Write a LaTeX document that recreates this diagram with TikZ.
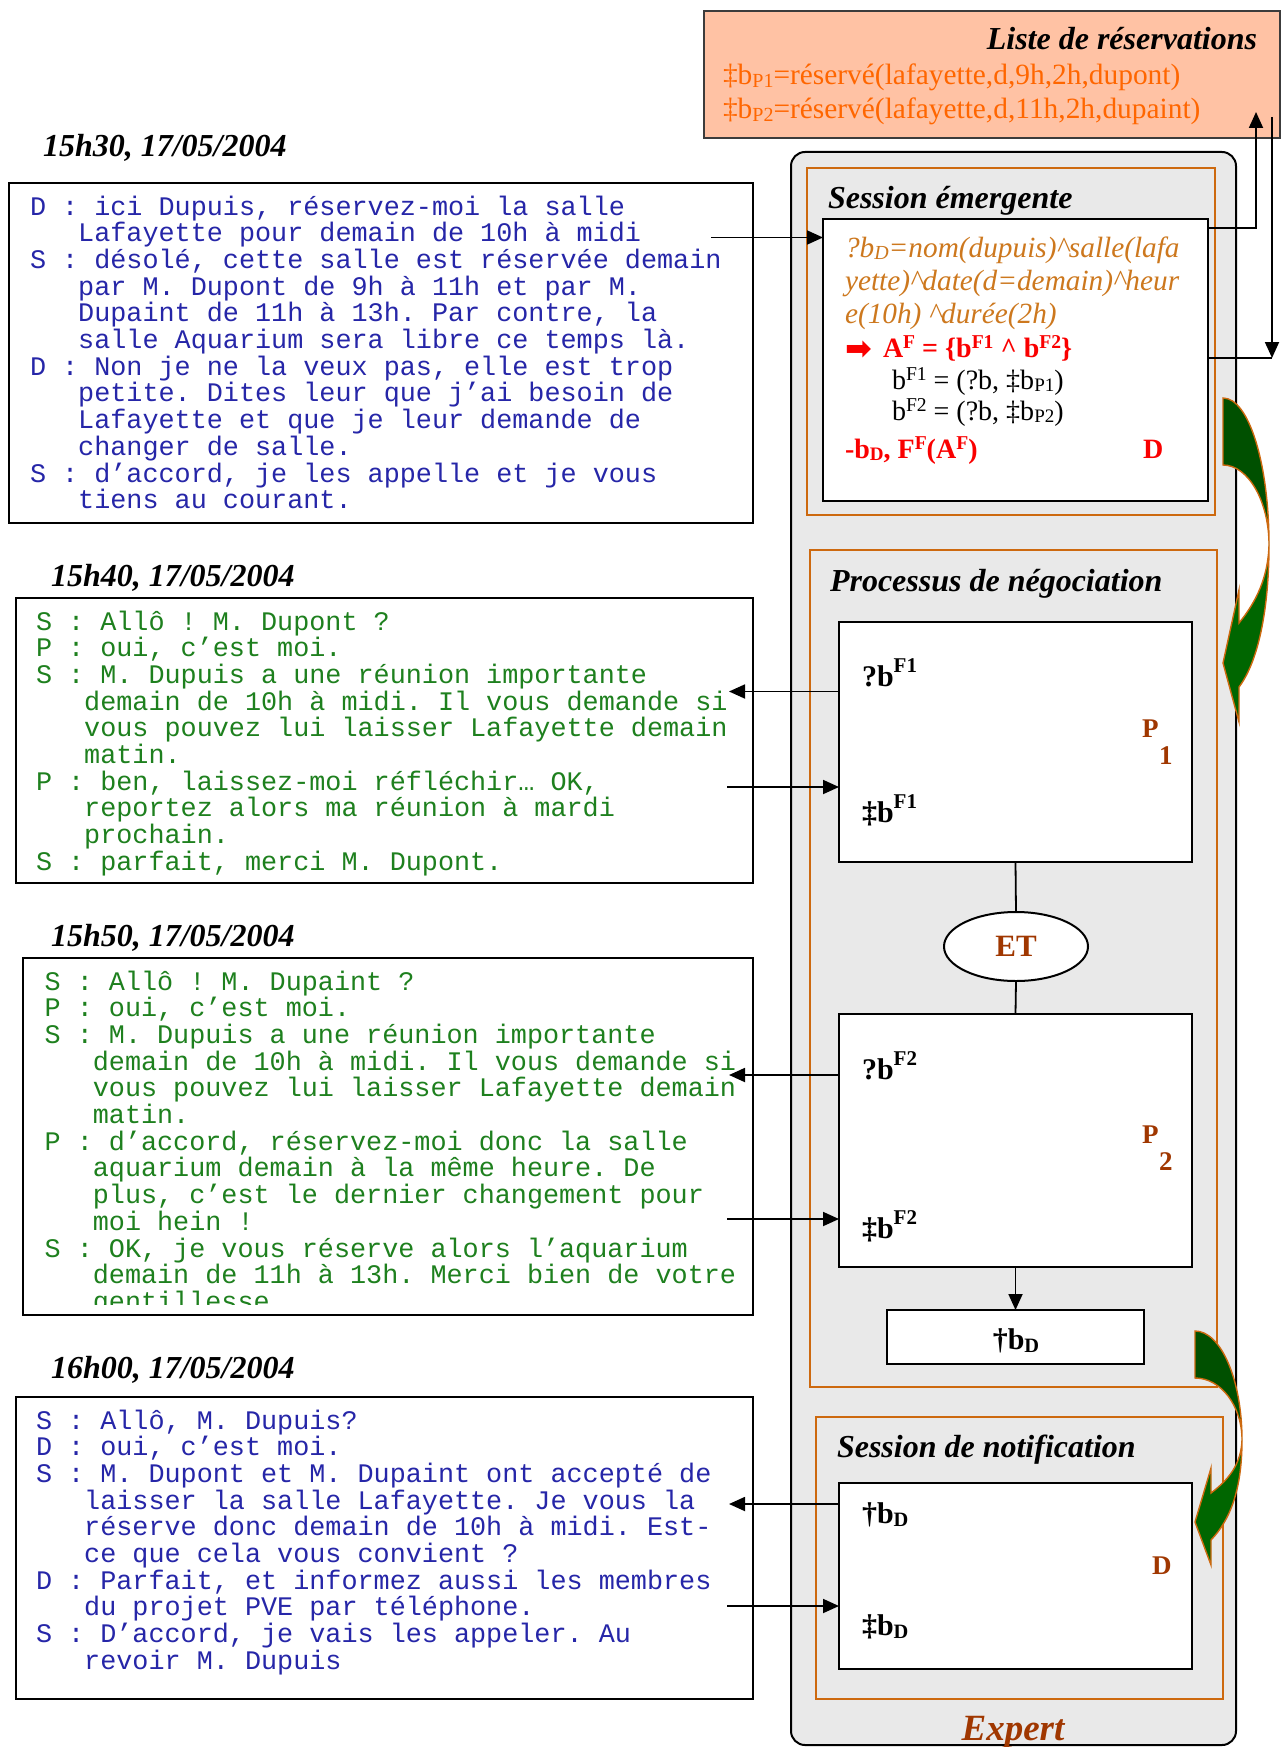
\documentclass[tikz,border=0pt]{standalone}
\usepackage{fontspec}
\setmainfont{Liberation Serif}
\setmonofont{Liberation Mono}
\newfontfamily\dejavu{DejaVu Sans}
\usetikzlibrary{arrows.meta,shapes.geometric}
\makeatletter
\newcommand\Sup[2][0.25em]{\raisebox{#1}{\fontsize{\fpeval{0.7*\f@size}}{0}\selectfont #2}}
\newcommand\Sub[1]{\raisebox{-0.1em}{\fontsize{\fpeval{0.68*\f@size}}{0}\selectfont #1}}
\makeatother
\newcommand\fdlg{\ttfamily\fontsize{26.8}{26.7}\selectfont\frenchspacing}
\newcommand\fbi{\bfseries\itshape\fontsize{32}{34}\selectfont}
\newcommand\fexp{\bfseries\itshape\fontsize{37}{40}\selectfont}
\newcommand\fres{\fontsize{29.4}{34}\selectfont}
\newcommand\fital{\itshape\fontsize{29.3}{33}\selectfont}
\newcommand\fbl{\fontsize{28}{32}\selectfont}
\newcommand\fbr{\bfseries\fontsize{28}{32}\selectfont}
\newcommand\fbb{\bfseries\fontsize{30}{32}\selectfont}
\newcommand\flab{\bfseries\fontsize{27}{30}\selectfont}
\newcommand\fet{\bfseries\fontsize{31}{33}\selectfont}
\newcommand\dind{\hspace*{1.8em}}
\definecolor{dblue}{RGB}{38,38,168}
\definecolor{dgreen}{RGB}{30,128,30}
\definecolor{resorange}{RGB}{255,102,0}
\definecolor{frameorange}{RGB}{205,105,15}
\definecolor{itorange}{RGB}{205,120,30}
\definecolor{brownlab}{RGB}{160,55,0}
\definecolor{salmon}{RGB}{255,194,164}
\definecolor{listborder}{RGB}{60,60,60}
\definecolor{expgray}{RGB}{233,233,233}
\definecolor{gdark}{RGB}{0,80,0}
\definecolor{glight}{RGB}{0,102,0}
\definecolor{redtxt}{RGB}{250,0,0}
\tikzset{
  px/.style={inner sep=0pt, outer sep=0pt},
  lbl/.style={px, anchor=base west},
  blackbox/.style={draw=black, line width=2pt, fill=white},
  oframe/.style={draw=frameorange, line width=1.6pt},
  dlgbox/.style={draw=black, line width=2pt, fill=white},
  conn/.style={draw=black, line width=1.8pt},
  arr/.style={conn, -{Triangle[length=16pt,width=14pt]}},
  garrowA/.style={fill=gdark, draw=frameorange, line width=1.4pt},
  garrowB/.style={fill=glight, draw=frameorange, line width=1.4pt}
}
\newcommand\rbox[6][]{\node[px, anchor=north west, minimum width=#5-#3, minimum height=#6-#4, #1] (#2) at (#3,#4) {};}
\begin{document}
\begin{tikzpicture}[x=1pt,y=-1pt]
\useasboundingbox (0,0) rectangle (1282,1747);

% ---------- reservation list ----------
\rbox[draw=listborder, line width=1.5pt, fill=salmon]{liste}{704}{11}{1280}{138}
\node[px, anchor=base east, font=\fbi] (listeT) at (1257,50) {Liste de réservations};
\node[lbl, font=\fres, text=resorange] (res1) at (723,85) {‡b\Sub{P1}=réservé(lafayette,d,9h,2h,dupont)};
\node[lbl, font=\fres, text=resorange] (res2) at (723,119) {‡b\Sub{P2}=réservé(lafayette,d,11h,2h,dupaint)};

% ---------- expert ----------
\rbox[draw=black, line width=2pt, fill=expgray, rounded corners=14pt]{expert}{791}{152}{1236}{1745}
\rbox[oframe]{seF}{807}{168}{1215}{515}
\rbox[oframe]{npF}{810}{550}{1217}{1387}
\rbox[oframe]{snF}{816}{1417}{1223}{1699}

\rbox[blackbox]{se}{823}{219}{1208}{501}
\rbox[blackbox]{F1}{839}{622}{1192}{862}
\rbox[blackbox]{F2}{839}{1014}{1192}{1267}
\rbox[blackbox]{tbd}{887}{1310}{1144}{1364}
\rbox[blackbox]{sn}{839}{1483}{1192}{1669}
\node[ellipse, draw=black, line width=2pt, fill=white, minimum width=144pt, minimum height=69pt, px, font=\fet, text=brownlab] (et) at (1016,946.5) {ET};

\node[lbl, font=\fbi] (tSE) at (828,208) {Session émergente};
\node[lbl, font=\fbi] (tNP) at (830,591) {Processus de négociation};
\node[lbl, font=\fbi] (tSN) at (837,1457) {Session de notification};
\node[px, anchor=base, font=\fexp, text=brownlab] (tEx) at (1013,1740) {Expert};

% session emergente content
\node[lbl, font=\fital, text=itorange] (se1) at (845,257) {?b\Sub{D}=nom(dupuis)\textasciicircum salle(lafa};
\node[lbl, font=\fital, text=itorange] (se2) at (845,290) {yette)\textasciicircum date(d=demain)\textasciicircum heur};
\node[lbl, font=\fital, text=itorange] (se3) at (845,323) {e(10h) \textasciicircum durée(2h)};
\node[lbl, font=\dejavu\bfseries\fontsize{32}{34}\selectfont, text=redtxt] (redarr) at (845,359) {➡};
\node[lbl, font=\fbr, text=redtxt] (redA) at (883,357) {A\Sup[0.3em]{F} = \{b\Sup[0.3em]{F1} \textasciicircum\ b\Sup[0.3em]{F2}\}};
\node[lbl, font=\fbl] (bf1) at (892,389) {b\Sup[0.3em]{F1} = (?b, ‡b\Sub{P1})};
\node[lbl, font=\fbl] (bf2) at (892,420) {b\Sup[0.3em]{F2} = (?b, ‡b\Sub{P2})};
\node[lbl, font=\fbr, text=redtxt] (redL) at (845,458) {-b\Sub{D}, F\Sup[0.3em]{F}(A\Sup[0.3em]{F})};
\node[lbl, font=\fbr, text=redtxt] (redD) at (1143,458) {D};

% negotiation content
\node[lbl, font=\fbb] (f1q) at (862,686) {?b\Sup[0.45em]{F1}};
\node[lbl, font=\fbb] (f1d) at (862,822) {‡b\Sup[0.45em]{F1}};
\node[lbl, font=\flab, text=brownlab] (p1a) at (1142,737) {P};
\node[lbl, font=\flab, text=brownlab] (p1b) at (1159,764) {1};
\node[lbl, font=\fbb] (f2q) at (862,1079) {?b\Sup[0.45em]{F2}};
\node[lbl, font=\fbb] (f2d) at (862,1238) {‡b\Sup[0.45em]{F2}};
\node[lbl, font=\flab, text=brownlab] (p2a) at (1142,1143) {P};
\node[lbl, font=\flab, text=brownlab] (p2b) at (1159,1170) {2};
\node[px, anchor=base, font=\fbb] (tbdT) at (1016,1349) {†b\Sub{D}};

% notification content
\node[lbl, font=\fbb] (snq) at (862,1523) {†b\Sub{D}};
\node[lbl, font=\fbb] (snd) at (862,1635) {‡b\Sub{D}};
\node[lbl, font=\flab, text=brownlab] (snD) at (1152,1574) {D};

% ---------- dialogs ----------
\rbox[dlgbox]{dlg1}{9}{183}{753}{523}
\rbox[dlgbox]{dlg2}{15.5}{598}{753}{883}
\rbox[dlgbox]{dlg3}{23}{958}{753}{1315}
\rbox[dlgbox]{dlg4}{15.5}{1397}{753}{1699}

\node[lbl, font=\fbi] (date1) at (43,157) {15h30, 17/05/2004};
\node[lbl, font=\fbi] (date2) at (51,586) {15h40, 17/05/2004};
\node[lbl, font=\fbi] (date3) at (51,946) {15h50, 17/05/2004};
\node[lbl, font=\fbi] (date4) at (51,1378) {16h00, 17/05/2004};

\foreach \dl [count=\i from 0] in {
 {D : ici Dupuis, réservez-moi la salle},
 {\dind Lafayette pour demain de 10h à midi},
 {S : désolé, cette salle est réservée demain},
 {\dind par M. Dupont de 9h à 11h et par M.},
 {\dind Dupaint de 11h à 13h. Par contre, la},
 {\dind salle Aquarium sera libre ce temps là.},
 {D : Non je ne la veux pas, elle est trop},
 {\dind petite. Dites leur que j’ai besoin de},
 {\dind Lafayette et que je leur demande de},
 {\dind changer de salle.},
 {S : d’accord, je les appelle et je vous},
 {\dind tiens au courant.}
}{\node[lbl, font=\fdlg, text=dblue] (dA\i) at (30,215+26.7*\i) {\dl};}

\foreach \dl [count=\i from 0] in {
 {S : Allô ! M. Dupont ?},
 {P : oui, c’est moi.},
 {S : M. Dupuis a une réunion importante},
 {\dind demain de 10h à midi. Il vous demande si},
 {\dind vous pouvez lui laisser Lafayette demain},
 {\dind matin.},
 {P : ben, laissez-moi réfléchir… OK,},
 {\dind reportez alors ma réunion à mardi},
 {\dind prochain.},
 {S : parfait, merci M. Dupont.}
}{\node[lbl, font=\fdlg, text=dgreen] (dB\i) at (36,630+26.7*\i) {\dl};}

\begin{scope}
\clip (23,958) rectangle (753,1304);
\foreach \dl [count=\i from 0] in {
 {S : Allô ! M. Dupaint ?},
 {P : oui, c’est moi.},
 {S : M. Dupuis a une réunion importante},
 {\dind demain de 10h à midi. Il vous demande si},
 {\dind vous pouvez lui laisser Lafayette demain},
 {\dind matin.},
 {P : d’accord, réservez-moi donc la salle},
 {\dind aquarium demain à la même heure. De},
 {\dind plus, c’est le dernier changement pour},
 {\dind moi hein !},
 {S : OK, je vous réserve alors l’aquarium},
 {\dind demain de 11h à 13h. Merci bien de votre},
 {\dind gentillesse}
}{\node[lbl, font=\fdlg, text=dgreen] (dC\i) at (44.6,990+26.7*\i) {\dl};}
\end{scope}

\foreach \dl [count=\i from 0] in {
 {S : Allô, M. Dupuis?},
 {D : oui, c’est moi.},
 {S : M. Dupont et M. Dupaint ont accepté de},
 {\dind laisser la salle Lafayette. Je vous la},
 {\dind réserve donc demain de 10h à midi. Est-},
 {\dind ce que cela vous convient ?},
 {D : Parfait, et informez aussi les membres},
 {\dind du projet PVE par téléphone.},
 {S : D’accord, je vais les appeler. Au},
 {\dind revoir M. Dupuis}
}{\node[lbl, font=\fdlg, text=dblue] (dD\i) at (36,1429+26.7*\i) {\dl};}

% ---------- connectors ----------
\coordinate (c1) at (711,237.5);
\draw[arr] (c1) -- (c1 -| se.west);

\coordinate (rA) at (1256,228);
\coordinate (rAt) at (1256,112);
\draw[arr] (rA -| se.east) -- (rA) -- (rAt);
\coordinate (rB) at (1272,358);
\coordinate (rBt) at (1272,117);
\draw[conn] (rB -| se.east) -- (rB);
\draw[arr] (rBt) -- (rB);

\coordinate (c2a) at (729,691.5);
\draw[arr] (c2a -| F1.west) -- (c2a);
\coordinate (c2b) at (727,787);
\draw[arr] (c2b) -- (c2b -| F1.west);

\draw[conn] (F1.south) -- (et.north);
\draw[conn] (et.south) -- (F2.north);

\coordinate (c3a) at (729,1075);
\draw[arr] (c3a -| F2.west) -- (c3a);
\coordinate (c3b) at (727,1219);
\draw[arr] (c3b) -- (c3b -| F2.west);

\draw[arr] (F2.south) -- (tbd.north);

\coordinate (c4a) at (729,1504);
\draw[arr] (c4a -| sn.west) -- (c4a);
\coordinate (c4b) at (727,1606);
\draw[arr] (c4b) -- (c4b -| sn.west);

% ---------- green curved arrows ----------
\path[garrowA] (1223,398) .. controls (1249,398) and (1269,464) .. (1269,545)
  .. controls (1269,501) and (1248,465) .. (1223,465) -- cycle;
\path[garrowB] (1269,545) .. controls (1269,610) and (1258,662) .. (1239,687)
  -- (1239,722) -- (1223,663) -- (1239,590) -- (1239,623)
  .. controls (1256,602) and (1268,578) .. (1269,545) -- cycle;

\path[garrowA] (1195,1331) .. controls (1221,1331) and (1242,1380) .. (1242,1440)
  .. controls (1242,1406) and (1221,1378) .. (1195,1378) -- cycle;
\path[garrowB] (1242,1440) .. controls (1242,1490) and (1230,1520) .. (1211,1540)
  -- (1211,1565) -- (1195,1522) -- (1211,1468) -- (1211,1493)
  .. controls (1228,1480) and (1241,1465) .. (1242,1440) -- cycle;

\end{tikzpicture}
\end{document}
